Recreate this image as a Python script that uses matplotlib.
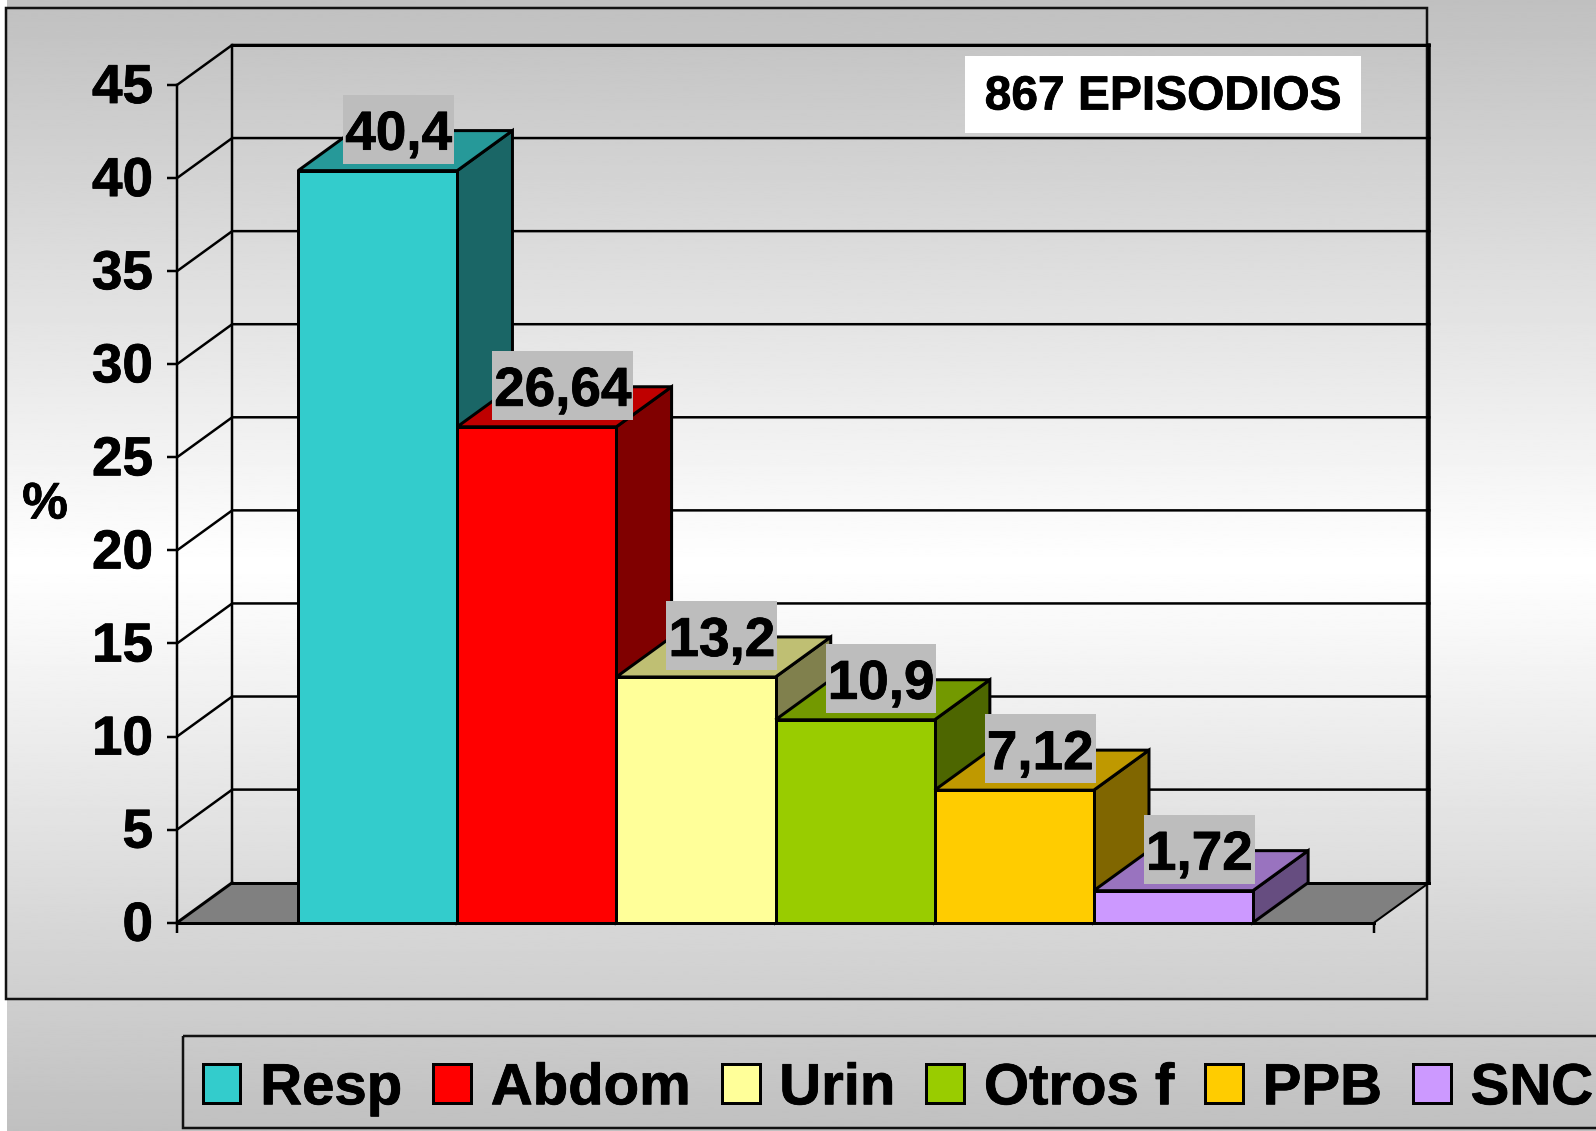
"""Focus of infection, 3D style bar chart"""

import numpy as np
import matplotlib
matplotlib.use("Agg")
import matplotlib.pyplot as plt
import matplotlib.patheffects as pe
from matplotlib.colors import to_rgb
from matplotlib.patches import Rectangle
from matplotlib.text import Text
from matplotlib.transforms import IdentityTransform, ScaledTranslation

categories = ["Resp", "Abdom", "Urin", "Otros f", "PPB", "SNC"]
values = [40.4, 26.64, 13.2, 10.9, 7.12, 1.72]
value_labels = ["40,4", "26,64", "13,2", "10,9", "7,12", "1,72"]
colors = ["#33CCCC", "#FF0000", "#FFFF99", "#99CC00", "#FFCC00", "#CC99FF"]
y_ticks = [0, 5, 10, 15, 20, 25, 30, 35, 40, 45]

W, H = 1596, 1131
PX = 0.72  # one pixel in points at dpi 100
GAP = 0.761
DEPTH_X = 0.347
DEPTH_Y = 2.15

plt.rcParams["font.family"] = ["Liberation Sans", "DejaVu Sans"]
plt.rcParams["font.weight"] = "bold"

fig = plt.figure(figsize=(W / 100, H / 100), dpi=100, facecolor="white")

# page background and the frame round the plot, in pixels
bg = fig.add_axes([0, 0, 1, 1])
bg.set_xlim(0, W)
bg.set_ylim(H, 0)
bg.axis("off")
grad = np.concatenate([np.linspace(192, 255, 300), np.linspace(255, 192, 300)])
bg.imshow(grad[:, None], cmap="gray", vmin=0, vmax=255, aspect="auto",
          extent=(7, W, H, 0), interpolation="bilinear")
bg.set_xlim(0, W)
bg.set_ylim(H, 0)
bg.add_patch(Rectangle((6, 8), 1421, 991, fill=False, edgecolor="#111111", linewidth=2.5 * PX))
bg.add_patch(Rectangle((183, 1036), 1500, 92, fill=False, edgecolor="#111111", linewidth=2.5 * PX))
bg.add_patch(Rectangle((965, 56), 396, 77, facecolor="white", edgecolor="none", zorder=5))
bg.text(1163, 97, "867 EPISODIOS", fontsize=34.5, ha="center", va="center", zorder=6)
bg.text(45, 505, "%", fontsize=37, ha="center", va="center")

# front plane of the chart
ax = fig.add_axes([177 / W, (H - 922.7) / H, 1197 / W, 837.7 / H])
ax.patch.set_visible(False)
ax.set_xlim(-0.5 - GAP, len(values) - 0.5 + GAP)
ax.set_ylim(0, 45)
x0, x1 = ax.get_xlim()

# floor
ax.fill([x0, x1, x1 + DEPTH_X, x0 + DEPTH_X], [0, 0, DEPTH_Y, DEPTH_Y],
        facecolor="#808080", edgecolor="none", zorder=1, clip_on=False)
ax.plot([x0, x0 + DEPTH_X], [0, DEPTH_Y], color="black", lw=3 * PX, zorder=1.5, clip_on=False)
ax.plot([x1, x1 + DEPTH_X], [0, DEPTH_Y], color="black", lw=2 * PX, zorder=1.5, clip_on=False)
ax.plot([x0 + DEPTH_X, x1 + DEPTH_X], [DEPTH_Y, DEPTH_Y], color="black", lw=3 * PX,
        zorder=1.5, clip_on=False)

# walls and grid
for tick in y_ticks[1:]:
    ax.plot([x0, x0 + DEPTH_X, x1 + DEPTH_X], [tick, tick + DEPTH_Y, tick + DEPTH_Y],
            color="black", lw=2.5 * PX, zorder=1.5, clip_on=False)
ax.plot([x0 + DEPTH_X] * 2, [DEPTH_Y, 45 + DEPTH_Y], color="black", lw=2.5 * PX,
        zorder=1.5, clip_on=False)
ax.plot([x1 + DEPTH_X] * 2, [DEPTH_Y, 45 + DEPTH_Y], color="black", lw=3.5 * PX,
        zorder=1.5, clip_on=False)
ax.plot([x0 + DEPTH_X, x1 + DEPTH_X], [45 + DEPTH_Y] * 2, color="black", lw=3 * PX,
        zorder=1.5, clip_on=False)

# bars, left to right so each top covers the side of the one before
handles = []
for i, (name, val, col) in enumerate(zip(categories, values, colors)):
    z = 3 + i
    rgb = np.array(to_rgb(col))
    left, right = i - 0.5, i + 0.5
    ax.fill([right, right + DEPTH_X, right + DEPTH_X, right],
            [0, DEPTH_Y, val + DEPTH_Y, val],
            facecolor=rgb * 0.5, edgecolor="black", lw=3 * PX, zorder=z, clip_on=False)
    ax.fill([left, right, right + DEPTH_X, left + DEPTH_X],
            [val, val, val + DEPTH_Y, val + DEPTH_Y],
            facecolor=rgb * 0.75, edgecolor="black", lw=3 * PX, zorder=z, clip_on=False)
    bar = ax.bar(i, val, width=1, color=col, edgecolor="black", linewidth=3 * PX,
                 zorder=z + 0.5, label=name)
    handles.append(bar[0])

# axis
for side in ["top", "right"]:
    ax.spines[side].set_visible(False)
ax.spines["left"].set_linewidth(2.5 * PX)
ax.spines["bottom"].set_linewidth(3 * PX)
ax.spines["bottom"].set_zorder(20)
ax.set_yticks(y_ticks)
ax.set_xticks([x0, x1])
ax.set_xticklabels([])
ax.tick_params(axis="y", labelsize=39.5, length=10 * PX, width=2.5 * PX, pad=14 * PX)
ax.tick_params(axis="x", length=10 * PX, width=2.5 * PX)
lift = ScaledTranslation(0, 2 / 100, fig.dpi_scale_trans)
for lab in ax.get_yticklabels():
    lab.set_transform(lab.get_transform() + lift)

# value labels with their grey boxes, placed from the bar tops
for i, (val, txt) in enumerate(zip(values, value_labels)):
    px, py = ax.transData.transform((i, val))
    tx, ty = px + (21 if i == 0 else 26), py + 21
    label = ax.text(tx, ty, txt, transform=IdentityTransform(), fontsize=39.5, ha="center",
                    va="baseline", zorder=31, clip_on=False)
    bb = label.get_window_extent(fig.canvas.get_renderer())
    ax.add_patch(Rectangle((bb.x0 - 2, ty - 14), bb.width + 4, 69, transform=IdentityTransform(),
                           facecolor="#BDBDBD", edgecolor="none", zorder=30, clip_on=False))

leg = fig.legend(handles=handles, labels=categories, ncol=6, loc="lower left",
                 bbox_to_anchor=(183, 1136), bbox_transform=bg.transData,
                 fontsize=41.8, frameon=False, borderaxespad=0, borderpad=0.34,
                 handlelength=0.65, handleheight=0.65, handletextpad=0.34,
                 columnspacing=0.54)

# the original type is a little heavier than Liberation bold
for t in fig.findobj(Text):
    t.set_path_effects([pe.withStroke(linewidth=0.8 * PX, foreground="black")])

fig.savefig("out.png", dpi=100, facecolor="white")
